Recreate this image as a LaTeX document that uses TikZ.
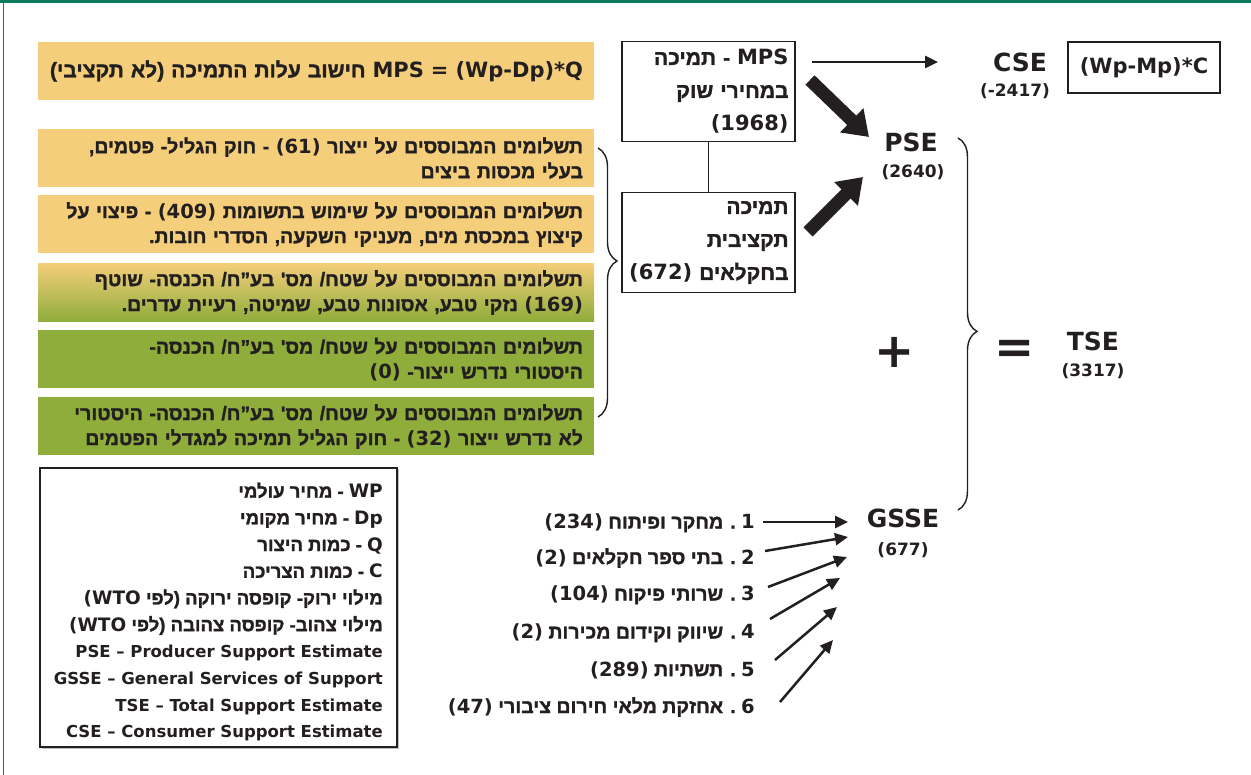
\documentclass[tikz,border=0pt]{standalone}
\usepackage{fontspec}
\setmainfont{DejaVu Sans}
\newfontfamily\latfont{DejaVu Sans}
\newfontfamily\hebfont[Script=Hebrew, BoldFeatures={FakeBold=1.4}]{Liberation Sans}
\usetikzlibrary{arrows.meta,positioning,shadows,decorations.pathreplacing}
\TeXXeTstate=1

\definecolor{framegreen}{HTML}{0B7A5E}
\definecolor{boxyellow}{HTML}{F4CE7A}
\definecolor{boxgreen}{HTML}{8FAD3B}
\definecolor{ink}{HTML}{231F20}

\newcommand{\heb}[1]{{\hebfont\bfseries\beginR#1\endR}}
\newcommand{\lat}[1]{\beginL{\latfont\bfseries#1}\endL}
\newcommand{\eng}[1]{{\fontsize{16.5}{26.7}\selectfont\bfseries#1}}

\tikzset{
  paybox/.style={fill=boxyellow, minimum width=556pt, minimum height=58pt, text width=534pt, align=right, inner xsep=11pt, inner ysep=0pt, font=\fontsize{19.5}{25}\selectfont},
  greenbox/.style={paybox, fill=boxgreen},
  supbox/.style={draw=ink, line width=1.3pt, minimum width=173pt, minimum height=100pt, text width=160pt, align=right, inner sep=0pt, font=\fontsize{21}{33}\selectfont},
  bigterm/.style={font=\fontsize{25}{25}\selectfont\bfseries, inner sep=0pt},
  termval/.style={font=\fontsize{17}{17}\selectfont\bfseries, inner sep=0pt},
  sign/.style={font=\fontsize{48}{48}\selectfont\bfseries, inner sep=0pt},
  itemlabel/.style={anchor=east, font=\fontsize{19.5}{19.5}\selectfont, inner sep=0pt},
  thinarrow/.style={draw=ink, line width=2.5pt, -{Triangle[length=13pt,width=12pt]}},
  fatarrow/.style={draw=ink, line width=13pt, -{Triangle[length=24pt,width=32pt]}},
  curly/.style={draw=ink, line width=1.4pt, decorate, decoration={brace, amplitude=19pt}}
}

\begin{document}
\begin{tikzpicture}[x=1pt, y=-1pt, color=ink]
\useasboundingbox (0,0) rectangle (1251,775);
% frame
\fill[framegreen] (0,0) rectangle (1251,3);
\draw[framegreen, line width=1.5pt] (3.5,0) -- (3.5,775);

% payment types, left column
\node[paybox, font=\fontsize{21}{25}\selectfont] (mpscalc) at (316,71) {\heb{\lat{MPS = (Wp-Dp)*Q} חישוב עלות התמיכה (לא תקציבי)}};
\node[paybox] (output) at (316,158) {\heb{תשלומים המבוססים על ייצור \lat{(61)} - חוק הגליל- פטמים,}\\ \heb{בעלי מכסות ביצים}};
\node[paybox] (inputs) at (316,224.5) {\heb{תשלומים המבוססים על שימוש בתשומות \lat{(409)} - פיצוי על}\\ \heb{קיצוץ במכסת מים, מעניקי השקעה, הסדרי חובות.}};
\node[paybox, top color=boxyellow, middle color=boxyellow!45!boxgreen, bottom color=boxgreen] (current) at (316,292.5) {\heb{תשלומים המבוססים על שטח/ מס' בע”ח/ הכנסה- שוטף}\\ \heb{\lat{(169)} נזקי טבע, אסונות טבע, שמיטה, רעיית עדרים.}};
\node[greenbox] (histreq) at (316,359.5) {\heb{תשלומים המבוססים על שטח/ מס' בע”ח/ הכנסה-}\\ \heb{היסטורי נדרש ייצור- \lat{(0)}}};
\node[greenbox] (histfree) at (316,426.5) {\heb{תשלומים המבוססים על שטח/ מס' בע”ח/ הכנסה- היסטורי}\\ \heb{לא נדרש ייצור \lat{(32)} - חוק הגליל תמיכה למגדלי הפטמים}};
\draw[curly, decoration={aspect=0.42}] (598,148) -- (598,417);

% legend
\node[draw=ink, line width=1.2pt, fill=white, drop shadow={shadow xshift=1.5pt, shadow yshift=-1.5pt, opacity=0.5},
      minimum width=357pt, minimum height=279pt] (legend) at (218.5,607.5) {};
\node[anchor=east, align=right, inner sep=0pt, font=\fontsize{18.5}{26.7}\selectfont] (legendtext) at (383,612) {%
  \heb{\lat{WP} - מחיר עולמי}\\
  \heb{\lat{Dp} - מחיר מקומי}\\
  \heb{\lat{Q} - כמות היצור}\\
  \heb{\lat{C} - כמות הצריכה}\\
  \heb{מילוי ירוק- קופסה ירוקה (לפי \lat{(WTO}}\\
  \heb{מילוי צהוב- קופסה צהובה (לפי \lat{(WTO}}\\
  \eng{PSE – Producer Support Estimate}\\
  \eng{GSSE – General Services of Support}\\
  \eng{TSE – Total Support Estimate}\\
  \eng{CSE – Consumer Support Estimate}};

% producer support
\node[supbox] (mps) at (708.5,91.5) {\heb{\lat{MPS} - תמיכה}\\ \heb{במחירי שוק}\\ \heb{\lat{(1968)}}};
\node[supbox] (budget) at (708.5,242.5) {\heb{תמיכה}\\ \heb{תקציבית}\\ \heb{בחקלאים \lat{(672)}}};
\draw[draw=ink, line width=1.3pt] (mps.south) -- (budget.north);

% consumer side
\node[bigterm] (cse) at (1020,62) {CSE};
\node[termval] (cseval) at (1015,91) {(-2417)};
\node[draw=ink, line width=1.3pt, minimum width=152pt, minimum height=51pt, inner sep=0pt,
      font=\fontsize{21}{21}\selectfont\bfseries] (cseformula) at (1144,67.5) {(Wp-Mp)*C};
\coordinate (mpsout) at (812,62);
\coordinate (csein) at (938,62);
\draw[thinarrow] (mpsout) -- (csein);

% totals
\node[bigterm] (pse) at (911,142) {PSE};
\node[termval] (pseval) at (913,172) {(2640)};
\node[bigterm] (tse) at (1093,341) {TSE};
\node[termval] (tseval) at (1093,371) {(3317)};
\node[bigterm] (gsse) at (903,518) {GSSE};
\node[termval] (gsseval) at (903,550) {(677)};
\node[sign] (plus) at (895,352) {+};
\node[sign] (equals) at (1015,352) {=};
\draw[curly, decoration={aspect=0.52}] (958,138) -- (958,510);

\coordinate (mpstail) at (810,80);
\coordinate (psetop) at (869,137);
\coordinate (budtail) at (808,232);
\coordinate (psebot) at (863,177);
\draw[fatarrow] (mpstail) -- (psetop);
\draw[fatarrow] (budtail) -- (psebot);

% general services
\node[itemlabel] (item1) at (755,523) {\heb{\lat{1} . מחקר ופיתוח \lat{(234)}}};
\node[itemlabel] (item2) at (755,558) {\heb{\lat{2} . בתי ספר חקלאים \lat{(2)}}};
\node[itemlabel] (item3) at (755,595) {\heb{\lat{3} . שרותי פיקוח \lat{(104)}}};
\node[itemlabel] (item4) at (755,633) {\heb{\lat{4} . שיווק וקידום מכירות \lat{(2)}}};
\node[itemlabel] (item5) at (755,670) {\heb{\lat{5} . תשתיות \lat{(289)}}};
\node[itemlabel] (item6) at (755,707) {\heb{\lat{6} . אחזקת מלאי חירום ציבורי \lat{(47)}}};
\foreach \i/\sx/\sy/\ex/\ey in {1/763/522/848/522, 2/765/551/848/537, 3/768/587/847/557,
                                4/770/619/840/578, 5/775/660/837/607, 6/780/702/833/640}{
  \coordinate (src\i) at (\sx,\sy);
  \coordinate (dst\i) at (\ex,\ey);
  \draw[thinarrow] (src\i) -- (dst\i);
}
\end{tikzpicture}
\end{document}
